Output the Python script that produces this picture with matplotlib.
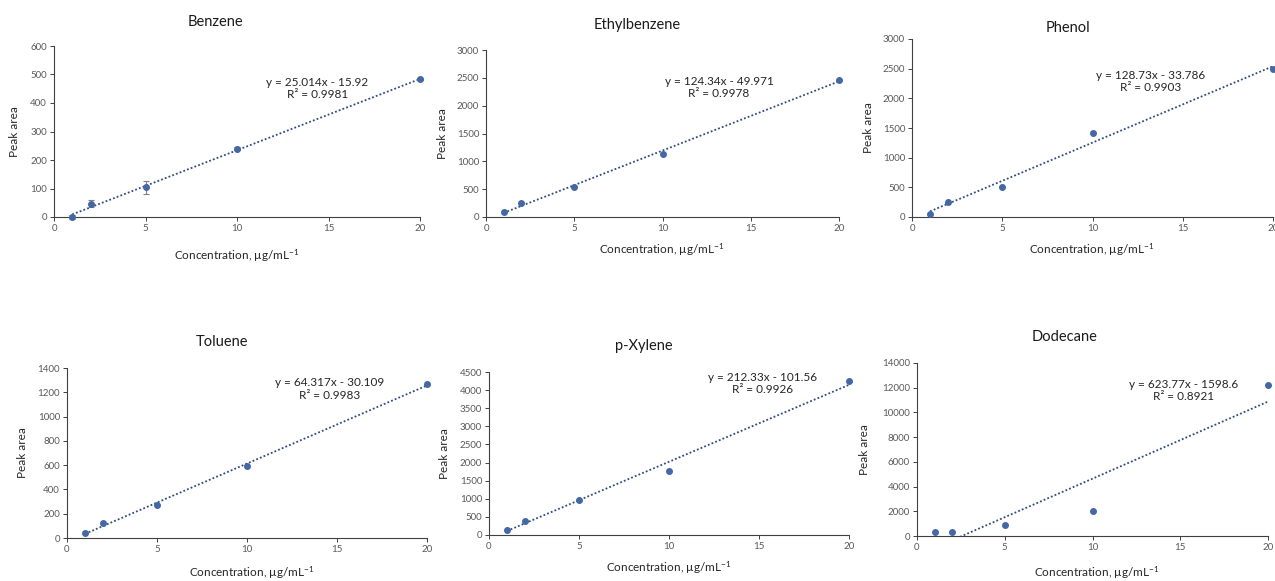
import numpy as np
import matplotlib
matplotlib.use("Agg")
import matplotlib.pyplot as plt

plt.rcParams['font.family'] = ['Lato', 'DejaVu Sans']
plt.rcParams['mathtext.fontset'] = 'custom'
plt.rcParams['mathtext.rm'] = 'Lato'
plt.rcParams['mathtext.it'] = 'Lato:italic'

# ===== DATA =====
conc = [1, 2, 5, 10, 20]

compounds = ["Benzene", "Ethylbenzene", "Phenol", "Toluene", "p-Xylene", "Dodecane"]

benzene = [0, 47, 104, 240, 483]
benzene_err = [8, 11, 22, 4, 4]
ethylbenzene = [85, 245, 540, 1140, 2460]
phenol = [55, 260, 510, 1410, 2490]
toluene = [45, 120, 275, 590, 1270]
p_xylene = [150, 400, 980, 1780, 4250]
dodecane = [300, 300, 900, 2000, 12200]

slopes = [25.014, 124.34, 128.73, 64.317, 212.33, 623.77]
intercepts = [-15.92, -49.971, -33.786, -30.109, -101.56, -1598.6]
r2 = ["0.9981", "0.9978", "0.9903", "0.9983", "0.9926", "0.8921"]
eq_text = ["y = 25.014x - 15.92", "y = 124.34x - 49.971", "y = 128.73x - 33.786",
           "y = 64.317x - 30.109", "y = 212.33x - 101.56", "y = 623.77x - 1598.6"]

y_max = [600, 3000, 3000, 1400, 4500, 14000]
y_step = [100, 500, 500, 200, 500, 2000]

series = [benzene, ethylbenzene, phenol, toluene, p_xylene, dodecane]

# ===== LAYOUT (pixel-based) =====
W, H = 1275, 581
# left, right, bottom(y px), top(y px)
boxes = [(54, 420, 217, 46), (486, 839, 217, 50), (912, 1273, 217, 39),
         (67, 427, 538, 368), (489, 849, 535, 372), (917, 1268, 536, 363)]
title_pos = [(215, 22), (637, 25), (1068, 28), (222, 342), (644, 346), (1065, 337)]
xlabel_pos = [(237, 256), (662, 250), (1092, 250), (252, 573), (669, 568), (1097, 573)]
ylabel_x = [14, 442, 868, 23, 445, 865]
eq_pos = [(0.72, 0.75), (0.66, 0.775), (0.66, 0.76), (0.73, 0.876), (0.76, 0.93), (0.76, 0.84)]

marker_c = '#4468A6'
line_c = '#2F4B7E'
tick_c = '#595959'

fig = plt.figure(figsize=(W / 100, H / 100), dpi=100)

for i, name in enumerate(compounds):
    l, r, b, t = boxes[i]
    ax = fig.add_axes([l / W, (H - b) / H, (r - l) / W, (b - t) / H])
    ax.set_xlim(0, 20)
    ax.set_ylim(0, y_max[i])
    ax.set_xticks([0, 5, 10, 15, 20])
    ax.set_yticks(np.arange(0, y_max[i] + 1, y_step[i]))

    # trendline
    xs = np.array([conc[0], conc[-1]])
    ax.plot(xs, slopes[i] * xs + intercepts[i], linestyle=(0, (1, 1.2)),
            color=line_c, linewidth=1.3, zorder=2)

    if i == 0:
        ax.errorbar(conc, series[i], yerr=benzene_err, fmt='o', color=marker_c,
                    ecolor='#7F7F7F', elinewidth=0.8, capsize=2, capthick=0.8,
                    markersize=4, zorder=3, clip_on=False)
    else:
        ax.plot(conc, series[i], 'o', color=marker_c, markersize=4, zorder=3,
                clip_on=False)

    ax.text(eq_pos[i][0], eq_pos[i][1], eq_text[i] + "\nR² = " + r2[i],
            transform=ax.transAxes, ha='center', va='center', fontsize=8.5,
            color='#262626', multialignment='center', linespacing=1.15)

    for s in ['top', 'right']:
        ax.spines[s].set_visible(False)
    for s in ['left', 'bottom']:
        ax.spines[s].set_color('#404040')
        ax.spines[s].set_linewidth(0.8)
    ax.tick_params(axis='both', labelsize=7, labelcolor=tick_c, color='#404040',
                   length=3, width=0.7, pad=2)
    ax.set_facecolor('none')

    fig.text(title_pos[i][0] / W, 1 - title_pos[i][1] / H, name, ha='center',
             va='center', fontsize=10.5, color='#1a1a1a')
    fig.text(xlabel_pos[i][0] / W, 1 - xlabel_pos[i][1] / H,
             r"Concentration, µg/mL$^{-1}$", ha='center', va='center',
             fontsize=8.5, color='#262626')
    fig.text(ylabel_x[i] / W, 1 - ((b + t) / 2) / H, "Peak area", ha='center',
             va='center', rotation=90, fontsize=8.5, color='#262626')

plt.savefig("out.png", dpi=100)
